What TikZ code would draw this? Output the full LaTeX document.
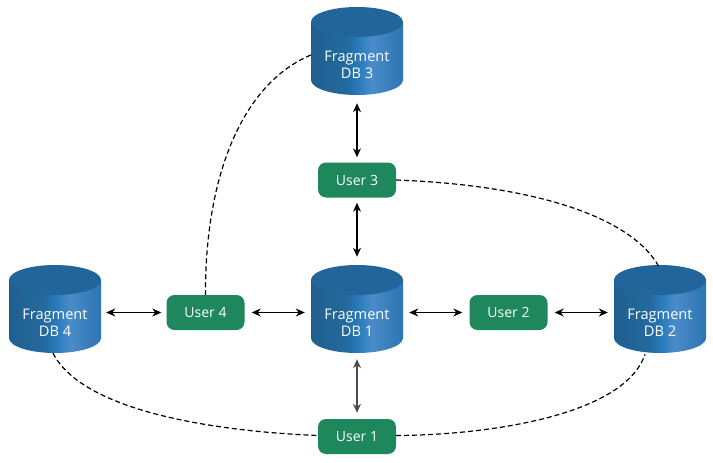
\documentclass[tikz,border=0pt]{standalone}
\usepackage{fontspec}
\setmainfont{Open Sans}
\usetikzlibrary{arrows.meta}
\definecolor{usergreen}{HTML}{1E875C}
\definecolor{dbtop}{HTML}{22659A}
\definecolor{c1}{HTML}{1F5F8F}
\definecolor{c2}{HTML}{236A9F}
\definecolor{c3}{HTML}{2A7DBD}
\definecolor{c4}{HTML}{4A8CC8}
\definecolor{c5}{HTML}{2C74B3}
\pgfdeclarehorizontalshading{cylshade}{100bp}{
  color(0bp)=(c1);
  color(25bp)=(c1);
  color(44.5bp)=(c2);
  color(51.5bp)=(c3);
  color(58bp)=(c4);
  color(75bp)=(c5);
  color(100bp)=(c5)}
\tikzset{
  x=1pt,y=-1pt,
  usernode/.style={rectangle,rounded corners=8pt,fill=usergreen,text=white,minimum width=78pt,minimum height=35pt,font=\fontsize{14}{16}\selectfont,inner sep=0pt},
  dbnode/.style={rectangle,minimum width=92pt,minimum height=88pt,inner sep=0pt},
  dblabel/.style={text=white,font=\fontsize{14.6}{17}\selectfont,align=center,inner sep=0pt},
  link/.style={{Stealth[length=9pt,width=8pt]}-{Stealth[length=9pt,width=8pt]},line width=1.3pt,black},
  graylink/.style={{Stealth[length=9pt,width=8pt]}-{Stealth[length=9pt,width=8pt]},line width=1.3pt,black!70},
  dashlink/.style={dash pattern=on 5pt off 3pt,line width=1.2pt,black},
}
\newcommand{\dbcyl}[4]{%
  \path[shade,shading=cylshade] (#2-46,#3-29) -- (#2-46,#3+29)
    arc[start angle=180,end angle=0,x radius=46,y radius=15]
    -- (#2+46,#3-29) -- cycle;
  \fill[dbtop] (#2,#3-29) ellipse[x radius=46,y radius=15];
  \node[dbnode] (#1) at (#2,#3) {};
  \node[dblabel] (#1label) at (#2,#3+13.5) {#4};
}
\begin{document}
\begin{tikzpicture}
\useasboundingbox (0,0) rectangle (713,463);
\fill[white] (0,0) rectangle (713,463);
\dbcyl{db3}{357}{51}{Fragment\\DB 3}
\dbcyl{db1}{357}{309}{Fragment\\DB 1}
\dbcyl{db4}{55}{309}{Fragment\\DB 4}
\dbcyl{db2}{660}{309}{Fragment\\DB 2}
\node[usernode] (u3) at (357,180) {User 3};
\node[usernode] (u4) at (205.5,312.5) {User 4};
\node[usernode] (u2) at (508.5,312.5) {User 2};
\node[usernode] (u1) at (357,436.5) {User 1};
\draw[link,shorten >=5pt,shorten <=8pt] (db3.south) -- (u3.north);
\draw[link,shorten >=8pt,shorten <=5pt] (u3.south) -- (db1.north);
\draw[graylink,shorten >=6pt,shorten <=6pt] (db1.south) -- (u1.north);
\draw[link,shorten >=5pt,shorten <=5pt] (u4.west -| db4.east) -- (u4.west);
\draw[link,shorten >=6pt,shorten <=7pt] (u4.east) -- (u4.east -| db1.west);
\draw[link,shorten >=7pt,shorten <=6pt] (u2.west -| db1.east) -- (u2.west);
\draw[link,shorten >=6pt,shorten <=7pt] (u2.east) -- (u2.east -| db2.west);
\draw[dashlink] ([yshift=-4pt]db3.west) .. controls (240,85) and (205,180) .. (u4.north);
\draw[dashlink] (u3.east) .. controls (530,185) and (630,215) .. ([xshift=-1pt,yshift=-2pt]db2.north);
\draw[dashlink] ([xshift=-2pt]db4.south) .. controls (85,415) and (230,432) .. ([yshift=1pt]u1.west);
\draw[dashlink] ([yshift=1pt]u1.east) .. controls (490,435) and (625,415) .. ([xshift=-15pt,yshift=-1pt]db2.south);
\end{tikzpicture}
\end{document}
